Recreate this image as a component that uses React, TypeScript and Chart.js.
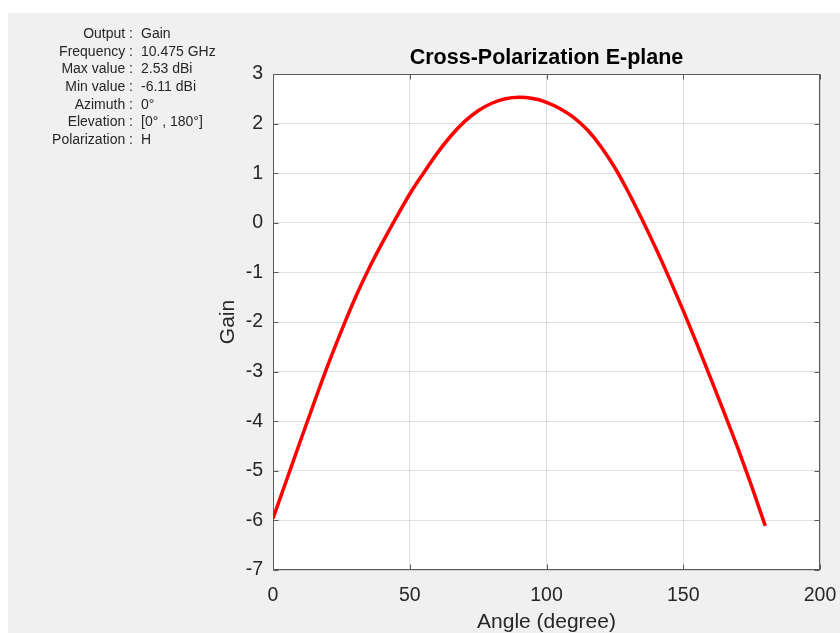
import React, { useEffect, useRef } from "react";
import { Chart, registerables } from "chart.js";

Chart.register(...registerables);

// ---- data ----
const angles = [0, 5, 10, 15, 20, 25, 30, 35, 40, 45, 50, 55, 60, 65, 70, 75, 80, 85, 90,
  95, 100, 105, 110, 115, 120, 125, 130, 135, 140, 145, 150, 155, 160, 165, 170, 175, 180];
const gain = [-5.96, -5.18, -4.4, -3.63, -2.88, -2.18, -1.52, -0.93, -0.4, 0.1, 0.58, 1.0,
  1.4, 1.75, 2.04, 2.26, 2.41, 2.5, 2.53, 2.505, 2.43, 2.3, 2.12, 1.87, 1.53, 1.11, 0.61, 0.06,
  -0.52, -1.13, -1.77, -2.44, -3.13, -3.83, -4.55, -5.31, -6.11];

const xTickValues = [0, 50, 100, 150, 200];
const yTickValues = [-7, -6, -5, -4, -3, -2, -1, 0, 1, 2, 3];

const infoLabels = ["Output", "Frequency", "Max value", "Min value", "Azimuth", "Elevation", "Polarization"];
const infoValues = ["Gain", "10.475 GHz", "2.53 dBi", "-6.11 dBi", "0°", "[0° , 180°]", "H"];

const titleText = "Cross-Polarization E-plane";
const xAxisLabel = "Angle (degree)";
const yAxisLabel = "Gain";

const FONT = "'Liberation Sans', Arial, Helvetica, sans-serif";
const TEXT = "#262626";

const W = 832;
const H = 620;

const decor = {
  id: "decor",
  beforeDraw(chart: any) {
    const { ctx, chartArea: a } = chart;
    ctx.save();
    ctx.fillStyle = "#f0f0f0";
    ctx.fillRect(0, 0, chart.width, chart.height);
    ctx.fillStyle = "#ffffff";
    ctx.fillRect(a.left, a.top, a.right - a.left, a.bottom - a.top);
    ctx.restore();
  },
  beforeDatasetsDraw(chart: any) {
    const { ctx, chartArea: a } = chart;
    const xs = chart.scales.x;
    const ys = chart.scales.y;
    ctx.save();
    ctx.strokeStyle = "#5a5a5a";
    ctx.lineWidth = 1;
    const L = Math.round(a.left) + 0.5;
    const R = Math.round(a.right) - 0.5;
    const T = Math.round(a.top) + 0.5;
    const B = Math.round(a.bottom) - 0.5;
    ctx.strokeRect(L, T, R - L, B - T);
    ctx.beginPath();
    const tl = 5;
    xTickValues.forEach((v) => {
      const px = Math.round(xs.getPixelForValue(v)) + 0.5;
      ctx.moveTo(px, B);
      ctx.lineTo(px, B - tl);
      ctx.moveTo(px, T);
      ctx.lineTo(px, T + tl);
    });
    yTickValues.forEach((v) => {
      const py = Math.round(ys.getPixelForValue(v)) + 0.5;
      ctx.moveTo(L, py);
      ctx.lineTo(L + tl, py);
      ctx.moveTo(R, py);
      ctx.lineTo(R - tl, py);
    });
    ctx.stroke();
    ctx.restore();
  },
  afterDraw(chart: any) {
    const { ctx, chartArea: a } = chart;
    const cx = (a.left + a.right) / 2;
    const cy = (a.top + a.bottom) / 2;
    ctx.save();
    ctx.fillStyle = "#000000";
    ctx.textAlign = "center";
    ctx.textBaseline = "alphabetic";
    ctx.font = `bold 21.5px ${FONT}`;
    ctx.fillText(titleText, cx, 51);

    ctx.fillStyle = TEXT;
    ctx.font = `21px ${FONT}`;
    ctx.fillText(xAxisLabel, cx, 615);

    ctx.save();
    ctx.translate(226, cy);
    ctx.rotate(-Math.PI / 2);
    ctx.fillText(yAxisLabel, 0, 0);
    ctx.restore();

    ctx.font = `14px ${FONT}`;
    ctx.textBaseline = "middle";
    infoLabels.forEach((lab, i) => {
      const y = 21 + i * 17.67;
      ctx.textAlign = "right";
      ctx.fillText(lab + " :", 125, y);
      ctx.textAlign = "left";
      ctx.fillText(infoValues[i], 133, y);
    });
    ctx.restore();
  },
};

export default function App() {
  const ref = useRef<HTMLCanvasElement | null>(null);

  useEffect(() => {
    if (!ref.current) return;
    const chart = new Chart(ref.current, {
      type: "line",
      data: {
        datasets: [
          {
            data: angles.map((a, i) => ({ x: a, y: gain[i] })),
            borderColor: "#ff0000",
            borderWidth: 3.5,
            pointRadius: 0,
            fill: false,
            cubicInterpolationMode: "monotone",
          },
        ],
      },
      options: {
        responsive: false,
        animation: false,
        devicePixelRatio: 1,
        layout: { padding: { left: 0, top: 61, right: 20, bottom: 0 } },
        plugins: {
          legend: { display: false },
          tooltip: { enabled: false },
          title: { display: false },
        },
        scales: {
          x: {
            type: "linear",
            min: 0,
            max: 200,
            afterFit: (s: any) => {
              s.height = 63;
              s.paddingLeft = 0;
              s.paddingRight = 0;
            },
            afterBuildTicks: (s: any) => {
              s.ticks = xTickValues.map((v) => ({ value: v }));
            },
            ticks: {
              padding: 14,
              color: TEXT,
              font: { family: FONT, size: 19.5 },
              maxRotation: 0,
              autoSkip: false,
            },
            grid: { color: "rgba(38,38,38,0.15)", drawTicks: false, lineWidth: 1 },
            border: { display: false },
          },
          y: {
            type: "linear",
            min: -7,
            max: 3,
            afterFit: (s: any) => {
              s.width = 265;
              s.paddingTop = 0;
              s.paddingBottom = 0;
            },
            afterBuildTicks: (s: any) => {
              s.ticks = yTickValues.map((v) => ({ value: v }));
            },
            ticks: {
              padding: 10,
              color: TEXT,
              font: { family: FONT, size: 19.5 },
              autoSkip: false,
            },
            grid: { color: "rgba(38,38,38,0.15)", drawTicks: false, lineWidth: 1 },
            border: { display: false },
          },
        },
      },
      plugins: [decor],
    });
    return () => chart.destroy();
  }, []);

  return (
    <div style={{ position: "fixed", left: 8, top: 13, width: W, height: H }}>
      <canvas ref={ref} width={W} height={H} style={{ width: W, height: H, display: "block" }} />
    </div>
  );
}
